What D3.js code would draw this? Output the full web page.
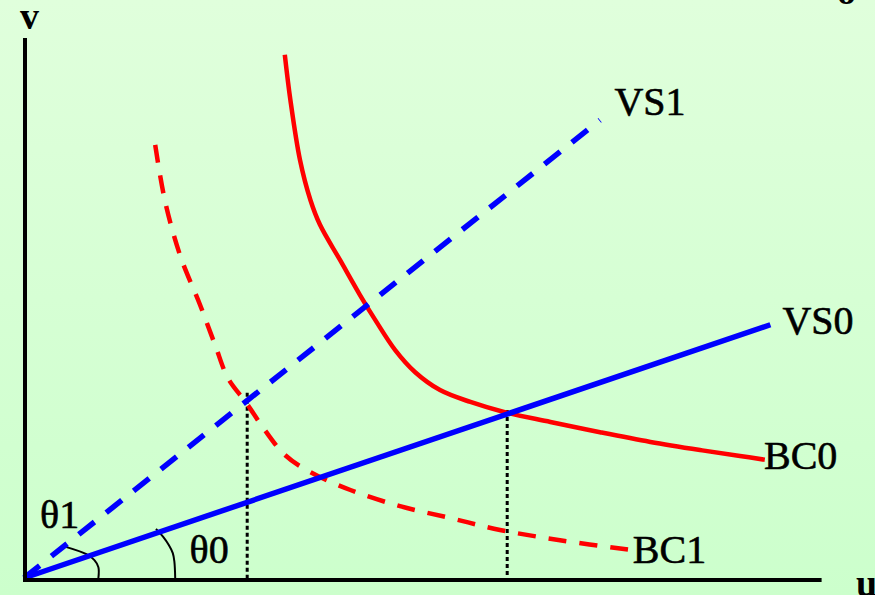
<!DOCTYPE html>
<html>
<head>
<meta charset="utf-8">
<script src="https://cdn.jsdelivr.net/npm/d3@7"></script>
<style>
  body { margin: 0; padding: 0; overflow: hidden; }
  #chart { width: 875px; height: 595px; }
</style>
</head>
<body>
<div id="chart"></div>
<script>
// curve points in (u, v) units
var vs0 = [[0, 0], [9.33, 4.69]];
var vs1 = [[0, 0], [7.2, 8.48]];

var bc0 = [
  [3.26, 9.69], [3.33, 8.85], [3.45, 7.74], [3.58, 7.0], [3.7, 6.54],
  [3.95, 5.89], [4.2, 5.24], [4.39, 4.78], [4.64, 4.22], [4.89, 3.81],
  [5.2, 3.48], [5.58, 3.26], [6.01, 3.07], [6.58, 2.89], [7.2, 2.7],
  [7.83, 2.52], [8.45, 2.37], [8.95, 2.26], [9.26, 2.19]
];

var bc1 = [
  [1.64, 8.02], [1.76, 7.0], [1.95, 5.98], [2.2, 5.06], [2.39, 4.31],
  [2.55, 3.7], [2.78, 3.24], [2.99, 2.78], [3.26, 2.28], [3.58, 1.96],
  [4.08, 1.63], [4.7, 1.33], [5.33, 1.11], [5.95, 0.89], [6.7, 0.7],
  [7.58, 0.52]
];

// equilibrium points (dotted drop lines)
var equilibria = [[2.79, 3.43], [6.04, 3.11]];

// angle marks
var theta1Arc = [[0.49, 0.59], [0.78, 0.44], [0.88, 0.33], [0.93, 0.2], [0.93, 0]];
var theta0Arc = [[1.65, 0.91], [1.74, 0.76], [1.81, 0.61], [1.86, 0.46], [1.88, 0.3], [1.89, 0]];

var labels = [
  { text: "VS1", u: 7.38, v: 8.57 },
  { text: "VS0", u: 9.48, v: 4.51 },
  { text: "BC0", u: 9.25, v: 2.02 },
  { text: "BC1", u: 7.61, v: 0.28 },
  { text: "\u03b81", u: 0.2, v: 0.93 },
  { text: "\u03b80", u: 2.07, v: 0.28 }
];

var width = 875;
var height = 595;

var x = d3.scaleLinear().domain([0, 10]).range([24, 824]);
var y = d3.scaleLinear().domain([0, 10]).range([578, 38]);

var svg = d3
  .select("#chart")
  .append("svg")
  .attr("width", width)
  .attr("height", height);

var grad = svg
  .append("defs")
  .append("linearGradient")
  .attr("id", "bg")
  .attr("x1", 0)
  .attr("y1", 0)
  .attr("x2", 0)
  .attr("y2", 1);
grad.append("stop").attr("offset", "0%").attr("stop-color", "#e0ffdc");
grad.append("stop").attr("offset", "100%").attr("stop-color", "#ccffcc");

svg
  .append("rect")
  .attr("width", width)
  .attr("height", height)
  .attr("fill", "url(#bg)");

var straight = d3
  .line()
  .x(function (d) { return x(d[0]); })
  .y(function (d) { return y(d[1]); });

var smooth = d3
  .line()
  .curve(d3.curveCatmullRom)
  .x(function (d) { return x(d[0]); })
  .y(function (d) { return y(d[1]); });

// dotted drops
svg
  .selectAll("line.drop")
  .data(equilibria)
  .enter()
  .append("line")
  .attr("class", "drop")
  .attr("x1", function (d) { return x(d[0]); })
  .attr("x2", function (d) { return x(d[0]); })
  .attr("y1", function (d) { return y(d[1]); })
  .attr("y2", y(0))
  .attr("stroke", "#000")
  .attr("stroke-width", 3)
  .attr("stroke-dasharray", "4,3");

// angle arcs
[theta1Arc, theta0Arc].forEach(function (a) {
  svg
    .append("path")
    .attr("d", smooth(a))
    .attr("fill", "none")
    .attr("stroke", "#000")
    .attr("stroke-width", 2);
});

// red curves
svg
  .append("path")
  .attr("d", smooth(bc1))
  .attr("fill", "none")
  .attr("stroke", "#ff0000")
  .attr("stroke-width", 4.5)
  .attr("stroke-dasharray", "18,13");

svg
  .append("path")
  .attr("d", smooth(bc0))
  .attr("fill", "none")
  .attr("stroke", "#ff0000")
  .attr("stroke-width", 4.5);

// blue lines
svg
  .append("path")
  .attr("d", straight(vs1))
  .attr("fill", "none")
  .attr("stroke", "#0000ff")
  .attr("stroke-width", 5.5)
  .attr("stroke-dasharray", "20,15");

svg
  .append("path")
  .attr("d", straight(vs0))
  .attr("fill", "none")
  .attr("stroke", "#0000ff")
  .attr("stroke-width", 5.5);

// axes
svg
  .append("line")
  .attr("x1", x(0) + 1)
  .attr("x2", x(0) + 1)
  .attr("y1", y(10))
  .attr("y2", y(0) + 4)
  .attr("stroke", "#000")
  .attr("stroke-width", 4);

svg
  .append("line")
  .attr("x1", x(0) - 1)
  .attr("x2", x(9.97))
  .attr("y1", y(0) + 2)
  .attr("y2", y(0) + 2)
  .attr("stroke", "#000")
  .attr("stroke-width", 4);

var fontFamily = "'Liberation Serif', serif";

svg
  .append("text")
  .attr("x", 20)
  .attr("y", 29)
  .attr("font-family", fontFamily)
  .attr("font-weight", "bold")
  .attr("font-size", "38px")
  .text("v");

svg
  .append("text")
  .attr("x", 856)
  .attr("y", 596)
  .attr("font-family", fontFamily)
  .attr("font-weight", "bold")
  .attr("font-size", "38px")
  .text("u");

svg
  .append("text")
  .attr("x", 837)
  .attr("y", 4)
  .attr("font-family", fontFamily)
  .attr("font-weight", "bold")
  .attr("font-size", "38px")
  .text("o");

svg
  .selectAll("text.label")
  .data(labels)
  .enter()
  .append("text")
  .attr("class", "label")
  .attr("x", function (d) { return x(d.u); })
  .attr("y", function (d) { return y(d.v); })
  .attr("font-family", fontFamily)
  .attr("font-size", "40px")
  .attr("fill", "#000")
  .attr("stroke", "#000")
  .attr("stroke-width", 0.6)
  .text(function (d) { return d.text; });
</script>
</body>
</html>
